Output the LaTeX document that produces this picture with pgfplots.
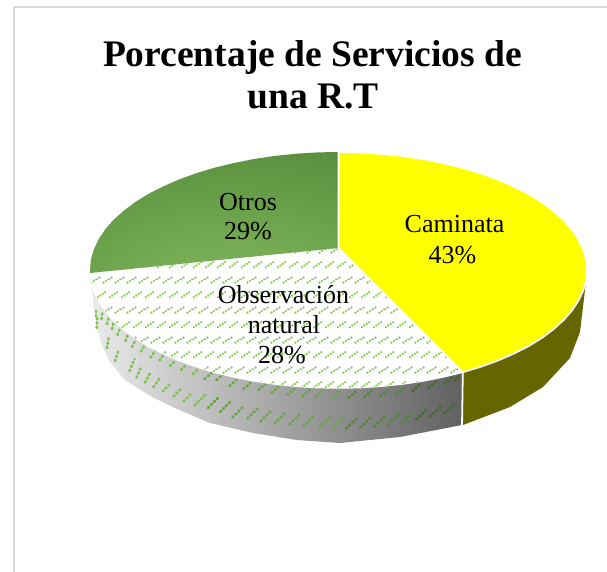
\documentclass[border=0pt]{standalone}
\usepackage{fontspec}
\setmainfont{Liberation Serif}
\usepackage{pgfplots}
\pgfplotsset{compat=1.18}
\usetikzlibrary{patterns}
\definecolor{frameg}{HTML}{D9D9D9}
\definecolor{cam}{HTML}{FFFF00}
\definecolor{camside}{HTML}{666600}
\definecolor{d1}{HTML}{7FC24F}
\definecolor{d2}{HTML}{66A83F}
\definecolor{d3}{HTML}{4E8A32}
\definecolor{d4}{HTML}{3E6E28}
\definecolor{dtop}{HTML}{7FC94C}
\definecolor{otrA}{HTML}{8EC16C}
\definecolor{otrB}{HTML}{73AA52}
\definecolor{otrC}{HTML}{5E9441}
\definecolor{otrD}{HTML}{3F672B}
\pgfdeclareradialshading{otros}{\pgfpoint{6bp}{-44bp}}{%
 color(0bp)=(otrA);color(22bp)=(otrB);color(46bp)=(otrC);color(80bp)=(otrD);color(100bp)=(otrD)}
\newcommand\dashat[2]{%
  \pgfpathcircle{\pgfpoint{#1pt-3.9pt}{#2pt-2.6pt}}{1.25pt}%
  \pgfpathcircle{\pgfpoint{#1pt-1.3pt}{#2pt-0.87pt}}{1.25pt}%
  \pgfpathcircle{\pgfpoint{#1pt+1.3pt}{#2pt+0.87pt}}{1.25pt}%
  \pgfpathcircle{\pgfpoint{#1pt+3.9pt}{#2pt+2.6pt}}{1.25pt}}
\pgfdeclarepatternformonly{topdash}{\pgfpointorigin}{\pgfqpoint{12pt}{30pt}}{\pgfqpoint{12pt}{30pt}}{%
 \dashat{6}{7.5}\dashat{0}{22.5}\dashat{12}{22.5}%
 \pgfusepath{fill}}
\pgfplotsset{dq/.style={quiver={u=\thisrow{u},v=\thisrow{v},every arrow/.append style={line width=2.6pt, line cap=round, dash pattern=on 1.3pt off 3pt}}}}
\begin{document}
\begin{tikzpicture}
\begin{axis}[
  scale only axis, width=607pt, height=572pt,
  xmin=0, xmax=607, ymin=0, ymax=572, y dir=reverse,
  hide axis, clip=true,
  every axis plot/.append style={mark=none},
]
\addplot[draw=none, fill=white] coordinates {(0,0)(607,0)(607,572)(0,572)} -- cycle;
% frame
\addplot[frameg, line width=2pt] coordinates {(13.5,572)(13.5,7.5)(607,7.5)};
% side, grey part
\addplot[draw=none, left color=black!8, middle color=black!31, right color=black!62]
 coordinates {(462,372)(338.5,300)(90,280)(92,288)(94,310)(97,328)(102,345)(109,361)(125,380)(152,397)(175,408)(210,423)(253,433)(297,440)(340,443)(400,437)(462,425)} -- cycle;
% side, yellow part
\addplot[draw=none, fill=camside]
 coordinates {(463,372)(587,272)(585,290)(580,332)(570,358)(543,387)(510,407)(463,425)} -- cycle;
\addplot[white, line width=1.8pt] coordinates {(462.8,372)(462,427)};
% dashes on the side
\addplot[d1, dq] table {
x y u v
96.7 328 0.6 -10
107 348 2 -12
115 361 4 -12
129.5 371 5 -12
136.5 377.5 5 -11
145 382.5 6 -11
153.5 387 7 -10
162.5 391.5 9 -9
173.5 396.5 9 -9
183.5 401.5 9 -9
195 405 10 -10
96 316.5 0 -7
101.5 319 1 -8
107 324 2 -8
112 329 2 -8
117.5 335 3 -8
125.5 341 3 -8
132 347 4 -8
141 351.5 4 -7
150.5 357.5 5 -7
159.5 360.5 5 -7
170 366 6 -6
181 370 6 -6
193 374 6 -6
};
\addplot[d2, dq] table {
x y u v
208 408 10 -10
220 412 10 -10
232.5 417.5 11 -11
247.5 418.5 11 -11
260.5 421.5 11 -11
274.5 423.5 11 -11
289.5 424.5 11 -11
303.5 426.5 11 -11
319.5 427.5 11 -11
332.5 428.5 11 -11
204.5 379 7 -6
216.5 380 7 -6
229.5 386 7 -6
243.5 389 7 -6
258.5 390 7 -6
271.5 393 7 -6
287.5 395 7 -6
302.5 396 7 -6
315.5 397 7 -6
332.5 398 7 -6
};
\addplot[d3, dq] table {
x y u v
346 428.5 12 -11
360 427.5 12 -11
374 426.5 12 -11
388 424.5 12 -11
402 422.5 12 -11
348.5 398 7 -6
364.5 397 7 -6
380.5 396 7 -6
396.5 394 7 -6
};
\addplot[d4, dq] table {
x y u v
416 419.5 12 -11
430 416.5 12 -11
444 413.5 12 -11
412.5 391 7 -6
428.5 388 7 -6
444.5 384 7 -6
454.5 381 5 -5
};
% Observacion natural
\addplot[draw=white, line width=1.5pt, fill=white]
 coordinates {(338.5,248)(462.8,372.2)(443.5,376.9)(423.5,380.9)(402.8,384)(381.6,386.2)(360.2,387.6)(338.5,388)(316.8,387.6)(295.4,386.2)(274.2,384)(253.5,380.9)(233.5,376.9)(214.2,372.2)(196,366.7)(178.8,360.4)(162.8,353.4)(148.1,345.9)(134.9,337.7)(123.3,329)(113.3,319.9)(105,310.4)(98.5,300.5)(93.8,290.5)(90.9,280.3)(90,273)} -- cycle;
\addplot[draw=none, pattern=topdash, pattern color=dtop]
 coordinates {(338.5,248)(462.8,372.2)(443.5,376.9)(423.5,380.9)(402.8,384)(381.6,386.2)(360.2,387.6)(338.5,388)(316.8,387.6)(295.4,386.2)(274.2,384)(253.5,380.9)(233.5,376.9)(214.2,372.2)(196,366.7)(178.8,360.4)(162.8,353.4)(148.1,345.9)(134.9,337.7)(123.3,329)(113.3,319.9)(105,310.4)(98.5,300.5)(93.8,290.5)(90.9,280.3)(90,273)} -- cycle;
% Otros
\addplot[draw=none, shading=otros]
 coordinates {(338.5,248)(90,273)(90,270)(90.9,259.7)(93.8,249.5)(98.5,239.5)(105,229.6)(113.3,220.1)(123.3,211)(134.9,202.3)(148.1,194.1)(162.8,186.6)(178.8,179.6)(196,173.3)(214.2,167.8)(233.5,163.1)(253.5,159.1)(274.2,156)(295.4,153.8)(316.8,152.4)(338.5,152)} -- cycle;
% Caminata
\addplot[draw=white, line width=1.8pt, fill=cam]
 coordinates {(338.5,248)(338.5,152)(360.2,152.4)(381.6,153.8)(402.8,156)(423.5,159.1)(443.5,163.1)(462.8,167.8)(481,173.3)(498.2,179.6)(514.2,186.6)(528.9,194.1)(542.1,202.3)(553.7,211)(563.7,220.1)(572,229.6)(578.5,239.5)(583.2,249.5)(586.1,259.7)(587,270)(586.1,280.3)(583.2,290.5)(578.5,300.5)(572,310.4)(563.7,319.9)(553.7,329)(542.1,337.7)(528.9,345.9)(514.2,353.4)(498.2,360.4)(481,366.7)(462.8,372.2)} -- cycle;
% texts
\node[anchor=base, font=\fontsize{37.5}{42}\selectfont\bfseries, inner sep=0pt] at (axis cs:312.5,66.5) {Porcentaje de Servicios de};
\node[anchor=base, font=\fontsize{37.5}{42}\selectfont\bfseries, inner sep=0pt] at (axis cs:313,108.5) {una R.T};
\node[anchor=base, font=\fontsize{26}{30}\selectfont, inner sep=0pt] at (axis cs:454.5,232) {Caminata};
\node[anchor=base, font=\fontsize{26}{30}\selectfont, inner sep=0pt] at (axis cs:452.5,263) {43\%};
\node[anchor=base, font=\fontsize{26}{30}\selectfont, inner sep=0pt] at (axis cs:248,210) {Otros};
\node[anchor=base, font=\fontsize{26}{30}\selectfont, inner sep=0pt] at (axis cs:248,239.5) {29\%};
\node[anchor=base, font=\fontsize{26}{30}\selectfont, inner sep=0pt] at (axis cs:283.5,303) {Observación};
\node[anchor=base, font=\fontsize{26}{30}\selectfont, inner sep=0pt] at (axis cs:284,333) {natural};
\node[anchor=base, font=\fontsize{26}{30}\selectfont, inner sep=0pt] at (axis cs:282,363) {28\%};
\end{axis}
\end{tikzpicture}
\end{document}
